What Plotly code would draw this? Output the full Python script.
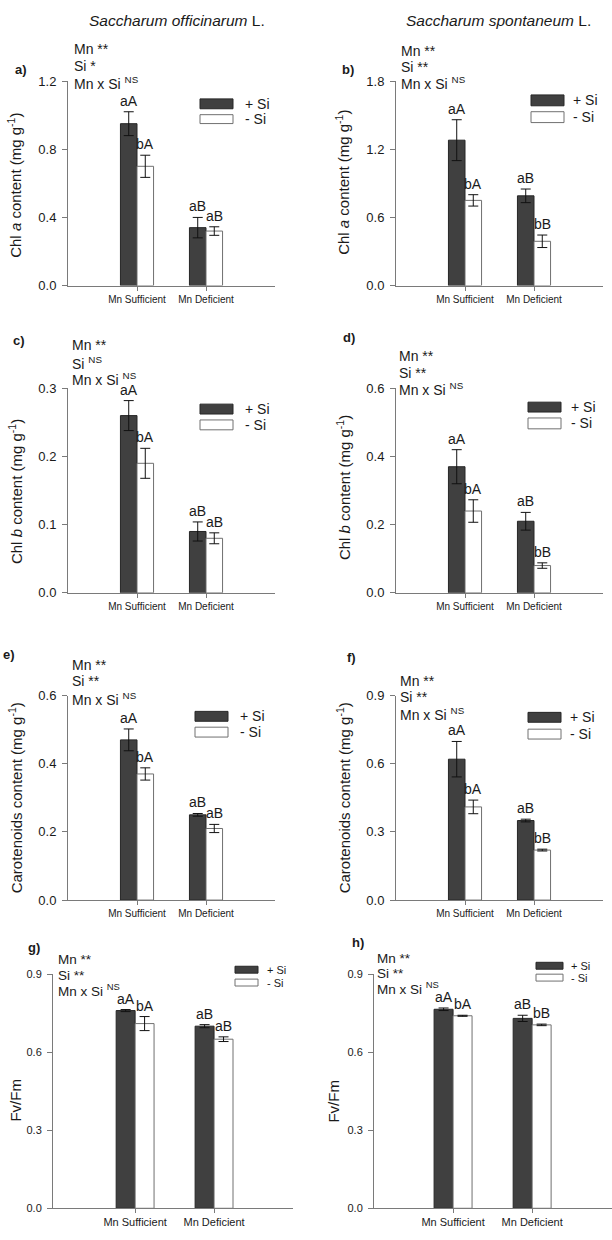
import plotly.graph_objects as go

W, H = 612, 1240
FONT = "Liberation Sans, Arial, sans-serif"
TXT = "#1a1a1a"
AX = "#7a7a7a"
DARK = "#404040"

categories = ["Mn Sufficient", "Mn Deficient"]
series_names = ["+ Si", "- Si"]

# ---- data ----
a_plus = [0.95, 0.34]
a_plus_err = [0.07, 0.06]
a_minus = [0.70, 0.32]
a_minus_err = [0.065, 0.025]
a_plus_letters = ["aA", "aB"]
a_minus_letters = ["bA", "aB"]

b_plus = [1.28, 0.79]
b_plus_err = [0.18, 0.06]
b_minus = [0.75, 0.39]
b_minus_err = [0.05, 0.055]
b_plus_letters = ["aA", "aB"]
b_minus_letters = ["bA", "bB"]

c_plus = [0.26, 0.09]
c_plus_err = [0.022, 0.014]
c_minus = [0.19, 0.08]
c_minus_err = [0.022, 0.008]
c_plus_letters = ["aA", "aB"]
c_minus_letters = ["bA", "aB"]

d_plus = [0.37, 0.21]
d_plus_err = [0.05, 0.026]
d_minus = [0.24, 0.08]
d_minus_err = [0.033, 0.008]
d_plus_letters = ["aA", "aB"]
d_minus_letters = ["bA", "bB"]

e_plus = [0.47, 0.25]
e_plus_err = [0.032, 0.004]
e_minus = [0.37, 0.21]
e_minus_err = [0.018, 0.012]
e_plus_letters = ["aA", "aB"]
e_minus_letters = ["bA", "aB"]

f_plus = [0.62, 0.35]
f_plus_err = [0.078, 0.006]
f_minus = [0.41, 0.22]
f_minus_err = [0.03, 0.004]
f_plus_letters = ["aA", "aB"]
f_minus_letters = ["bA", "bB"]

g_plus = [0.76, 0.70]
g_plus_err = [0.004, 0.006]
g_minus = [0.71, 0.65]
g_minus_err = [0.027, 0.009]
g_plus_letters = ["aA", "aB"]
g_minus_letters = ["bA", "aB"]

h_plus = [0.765, 0.73]
h_plus_err = [0.005, 0.012]
h_minus = [0.74, 0.705]
h_minus_err = [0.002, 0.003]
h_plus_letters = ["aA", "aB"]
h_minus_letters = ["bA", "bB"]

stats_a = ["Mn **", "Si *", "Mn x Si <sup>NS</sup>"]
stats_c = ["Mn **", "Si <sup>NS</sup>", "Mn x Si <sup>NS</sup>"]
stats_std = ["Mn **", "Si **", "Mn x Si <sup>NS</sup>"]

ylab_a = "Chl <i>a</i> content (mg g<sup>-1</sup>)"
ylab_b = "Chl <i>b</i> content (mg g<sup>-1</sup>)"
ylab_car = "Carotenoids content (mg g<sup>-1</sup>)"
ylab_fv = "Fv/Fm"

y_max = [1.2, 1.8, 0.3, 0.6, 0.6, 0.9, 0.9, 0.9]
y_dtick = [0.4, 0.6, 0.1, 0.2, 0.2, 0.3, 0.3, 0.3]

data = [
    (a_plus, a_plus_err, a_minus, a_minus_err, a_plus_letters, a_minus_letters, stats_a, ylab_a, "a)"),
    (b_plus, b_plus_err, b_minus, b_minus_err, b_plus_letters, b_minus_letters, stats_std, ylab_a, "b)"),
    (c_plus, c_plus_err, c_minus, c_minus_err, c_plus_letters, c_minus_letters, stats_c, ylab_b, "c)"),
    (d_plus, d_plus_err, d_minus, d_minus_err, d_plus_letters, d_minus_letters, stats_std, ylab_b, "d)"),
    (e_plus, e_plus_err, e_minus, e_minus_err, e_plus_letters, e_minus_letters, stats_std, ylab_car, "e)"),
    (f_plus, f_plus_err, f_minus, f_minus_err, f_plus_letters, f_minus_letters, stats_std, ylab_car, "f)"),
    (g_plus, g_plus_err, g_minus, g_minus_err, g_plus_letters, g_minus_letters, stats_std, ylab_fv, "g)"),
    (h_plus, h_plus_err, h_minus, h_minus_err, h_plus_letters, h_minus_letters, stats_std, ylab_fv, "h)"),
]

# ---- layout geometry (pixels) ----
geo = [
    dict(x=(68, 275), y=(75, 282), xr=(-1, 2), ylab=(15, 181), letter=(21, 63), stat=(73, (43, 60, 77)),
         leg=(200, 233, (93, 103), (109, 118), 243), small=False),
    dict(x=(396, 603), y=(75, 282), xr=(-1, 2), ylab=(343, 178), letter=(348, 63), stat=(400, (45, 61, 77)),
         leg=(531, 564, (89, 100), (106, 117), 571), small=False),
    dict(x=(68, 275), y=(386, 593), xr=(-1, 2), ylab=(15, 491), letter=(19, 338), stat=(71, (342, 360, 377)),
         leg=(200, 233, (402, 412), (418, 428), 243), small=False),
    dict(x=(396, 603), y=(386, 593), xr=(-1, 2), ylab=(343, 487), letter=(349, 335), stat=(398, (353, 370, 387)),
         leg=(528, 561, (400, 410), (416, 427), 569), small=False),
    dict(x=(68, 275), y=(697, 904), xr=(-1, 2), ylab=(15, 801), letter=(9, 655), stat=(71, (666, 682, 700)),
         leg=(195, 228, (713, 723), (729, 739), 238), small=False),
    dict(x=(396, 603), y=(697, 904), xr=(-1, 2), ylab=(343, 801), letter=(351, 658), stat=(399, (682, 698, 716)),
         leg=(528, 561, (714, 724), (731, 741), 568), small=False),
    dict(x=(53, 293), y=(979, 1216), xr=(-1.04, 2), ylab=(16, 1107), letter=(34, 952), stat=(57, (964, 980, 995)),
         leg=(235, 258, (971, 978), (984, 991), 265), small=True),
    dict(x=(374, 612), y=(979, 1216), xr=(-1, 2.01), ylab=(334, 1107), letter=(358, 947), stat=(376, (963, 978, 993)),
         leg=(536, 563, (967, 974), (979, 986), 569), small=True),
]

fig = go.Figure()
annotations = []
shapes = []

def px(x):
    return x / W

def py(y):
    return 1 - y / H

for k, (plus, plus_err, minus, minus_err, pl, ml, stats, ylab, letter) in enumerate(data):
    i = k + 1
    sfx = "" if i == 1 else str(i)
    xa, ya = "x" + sfx, "y" + sfx
    g = geo[k]
    fig.add_trace(go.Bar(
        x=categories, y=plus, name=series_names[0], xaxis=xa, yaxis=ya, showlegend=False,
        marker=dict(color=DARK, line=dict(color="#262626", width=1)),
        error_y=dict(type="data", array=plus_err, color="#111", thickness=1, width=5),
    ))
    fig.add_trace(go.Bar(
        x=categories, y=minus, name=series_names[1], xaxis=xa, yaxis=ya, showlegend=False,
        marker=dict(color="white", line=dict(color="#707070", width=1)),
        error_y=dict(type="data", array=minus_err, color="#111", thickness=1, width=5),
    ))
    xfs = 11 if g["small"] else 10
    yfs = 11 if g["small"] else 13
    fig.layout["xaxis" + sfx] = dict(
        domain=[px(g["x"][0]), px(g["x"][1])], anchor=ya, type="category", range=list(g["xr"]),
        showline=True, linecolor=AX, linewidth=1, ticks="outside", ticklen=4, tickcolor=AX,
        tickfont=dict(size=xfs, color=TXT, family=FONT), showgrid=False, zeroline=False, fixedrange=True,
    )
    fig.layout["yaxis" + sfx] = dict(
        domain=[py(g["y"][1]), py(g["y"][0])], anchor=xa, range=[0, y_max[k]], dtick=y_dtick[k],
        tick0=0, tickformat=".1f", showline=True, linecolor=AX, linewidth=1, ticks="outside",
        ticklen=5, tickcolor=AX, tickfont=dict(size=yfs, color=TXT, family=FONT),
        showgrid=False, zeroline=False, fixedrange=True, ticklabelstandoff=3,
    )
    # significance letters above error bars
    for j in range(len(categories)):
        annotations.append(dict(x=j - 0.12, y=plus[j] + plus_err[j], xref=xa, yref=ya, text=pl[j],
                                showarrow=False, yanchor="bottom", xanchor="center", yshift=1,
                                font=dict(size=14, color=TXT, family=FONT)))
        annotations.append(dict(x=j + 0.12, y=minus[j] + minus_err[j], xref=xa, yref=ya, text=ml[j],
                                showarrow=False, yanchor="bottom", xanchor="center", yshift=1,
                                font=dict(size=14, color=TXT, family=FONT)))
    # y axis title
    annotations.append(dict(x=px(g["ylab"][0]), y=py(g["ylab"][1]), xref="paper", yref="paper",
                            text=ylab, textangle=-90, showarrow=False, xanchor="center", yanchor="middle",
                            font=dict(size=15, color=TXT, family=FONT)))
    # panel letter
    annotations.append(dict(x=px(g["letter"][0]), y=py(g["letter"][1]), xref="paper", yref="paper",
                            text="<b>%s</b>" % letter, showarrow=False, xanchor="center", yanchor="middle",
                            font=dict(size=13, color=TXT, family=FONT)))
    # stats text
    sfs = 13.5 if g["small"] else 14
    for line, yy in zip(stats, g["stat"][1]):
        annotations.append(dict(x=px(g["stat"][0]), y=py(yy), xref="paper", yref="paper", text=line,
                                showarrow=False, xanchor="left", yanchor="middle", borderpad=0,
                                font=dict(size=sfs, color=TXT, family=FONT)))
    # legend
    lx0, lx1, d_y, w_y, tx = g["leg"]
    lfs = 11 if g["small"] else 14
    shapes.append(dict(type="rect", xref="paper", yref="paper", x0=px(lx0), x1=px(lx1),
                       y0=py(d_y[1]), y1=py(d_y[0]), fillcolor=DARK, line=dict(color="#262626", width=1)))
    shapes.append(dict(type="rect", xref="paper", yref="paper", x0=px(lx0), x1=px(lx1),
                       y0=py(w_y[1]), y1=py(w_y[0]), fillcolor="white", line=dict(color="#707070", width=1)))
    annotations.append(dict(x=px(tx), y=py((d_y[0] + d_y[1]) / 2), xref="paper", yref="paper",
                            text=series_names[0], showarrow=False, xanchor="left", yanchor="middle",
                            font=dict(size=lfs, color=TXT, family=FONT)))
    annotations.append(dict(x=px(tx), y=py((w_y[0] + w_y[1]) / 2), xref="paper", yref="paper",
                            text=series_names[1], showarrow=False, xanchor="left", yanchor="middle",
                            font=dict(size=lfs, color=TXT, family=FONT)))

# column titles
annotations.append(dict(x=px(177), y=py(14), xref="paper", yref="paper",
                        text="<i>Saccharum officinarum</i> L.", showarrow=False,
                        xanchor="center", yanchor="middle", font=dict(size=15.5, color=TXT, family=FONT)))
annotations.append(dict(x=px(498), y=py(14), xref="paper", yref="paper",
                        text="<i>Saccharum spontaneum</i> L.", showarrow=False,
                        xanchor="center", yanchor="middle", font=dict(size=15.5, color=TXT, family=FONT)))

fig.update_layout(
    width=W, height=H, margin=dict(l=0, r=0, t=0, b=0),
    paper_bgcolor="white", plot_bgcolor="white",
    barmode="group", bargap=0.52, bargroupgap=0,
    font=dict(family=FONT, color=TXT),
    annotations=annotations, shapes=shapes, showlegend=False,
)

POST = (
    "var s=document.createElement('style');"
    "s.innerHTML='html,body{margin:0 !important;padding:0 !important;overflow:hidden !important;}';"
    "document.head.appendChild(s);"
)

fig.write_html("out.html", config={"displayModeBar": False}, post_script=POST)
